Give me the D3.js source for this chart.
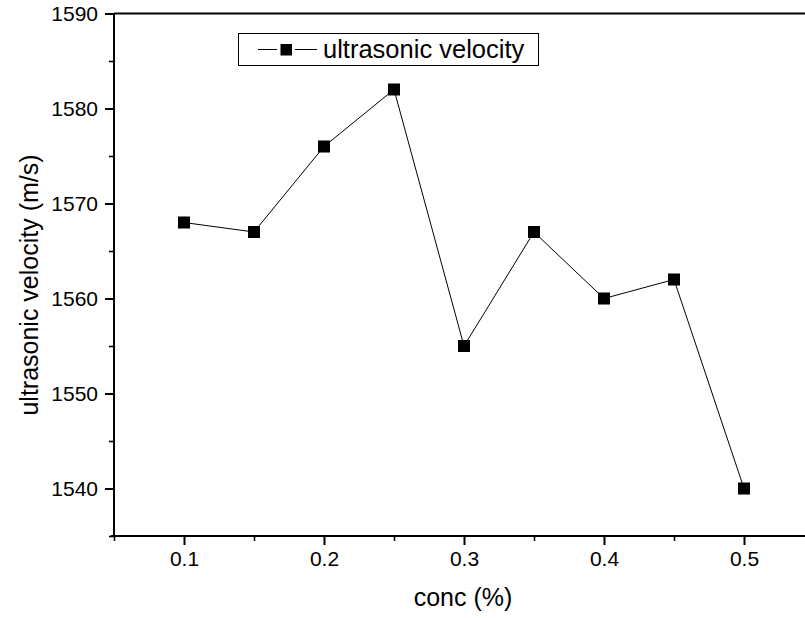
<!DOCTYPE html>
<html>
<head>
<meta charset="utf-8">
<script src="https://cdn.jsdelivr.net/npm/d3@7"></script>
<style>
  body { margin: 0; background: #fff; }
  text { font-family: Arial, "Liberation Sans", sans-serif; fill: #000; }
</style>
</head>
<body>
<script>
// data
const conc = [0.1, 0.15, 0.2, 0.25, 0.3, 0.35, 0.4, 0.45, 0.5];
const velocity = [1568, 1567, 1576, 1582, 1555, 1567, 1560, 1562, 1540];
const xTicks = [0.1, 0.2, 0.3, 0.4, 0.5];
const yTicks = [1540, 1550, 1560, 1570, 1580, 1590];

const svgWidth = 805, svgHeight = 618;
const plotLeft = 114, plotTop = 13.5, plotBottom = 536, plotRight = 814;
const fontFamily = 'Arial, "Liberation Sans", sans-serif';

let svg = d3.select('body').append('svg')
  .attr('width', svgWidth)
  .attr('height', svgHeight);

let x = d3.scaleLinear().domain([0.05, 0.55]).range([plotLeft, plotRight]);
let y = d3.scaleLinear().domain([1535, 1590]).range([plotBottom, plotTop]);

// minor ticks
let xMinor = d3.range(0.05, 0.551, 0.05).map(d => +d.toFixed(2)).filter(d => !xTicks.includes(d));
let yMinor = d3.range(1535, 1591, 5).filter(d => !yTicks.includes(d));

svg.append('g')
  .attr('transform', `translate(0,${plotBottom})`)
  .call(d3.axisBottom(x).tickValues(xMinor).tickSize(5).tickFormat(''))
  .call(g => g.select('.domain').remove())
  .selectAll('line').attr('stroke-width', 1.6);

svg.append('g')
  .attr('transform', `translate(${plotLeft},0)`)
  .call(d3.axisLeft(y).tickValues(yMinor).tickSize(5).tickFormat(''))
  .call(g => g.select('.domain').remove())
  .selectAll('line').attr('stroke-width', 1.6);

// major axes
let xAxis = svg.append('g')
  .attr('transform', `translate(0,${plotBottom})`)
  .call(d3.axisBottom(x).tickValues(xTicks).tickSize(9).tickPadding(6).tickFormat(d3.format('.1f')).tickSizeOuter(0));
xAxis.select('.domain').attr('stroke-width', 2).attr('d', `M${plotLeft - 3},0H${plotRight}`);
xAxis.selectAll('.tick line').attr('stroke-width', 2);
xAxis.selectAll('text').attr('font-size', 21).attr('font-family', fontFamily);

let yAxis = svg.append('g')
  .attr('transform', `translate(${plotLeft},0)`)
  .call(d3.axisLeft(y).tickValues(yTicks).tickSize(9).tickPadding(7).tickFormat(d3.format('d')).tickSizeOuter(0));
yAxis.select('.domain').attr('stroke-width', 2).attr('d', `M0,${plotTop}V${plotBottom + 1}`);
yAxis.selectAll('.tick line').attr('stroke-width', 2);
yAxis.selectAll('text').attr('font-size', 21).attr('font-family', fontFamily);

// top frame line
svg.append('line')
  .attr('x1', plotLeft).attr('x2', plotRight)
  .attr('y1', plotTop).attr('y2', plotTop)
  .attr('stroke', '#000').attr('stroke-width', 2);

// series
let line = d3.line().x((d, i) => x(conc[i])).y(d => y(d));
svg.append('path')
  .datum(velocity)
  .attr('d', line)
  .attr('fill', 'none')
  .attr('stroke', '#000')
  .attr('stroke-width', 1);

svg.selectAll('rect.pt')
  .data(velocity)
  .enter().append('rect')
  .attr('class', 'pt')
  .attr('x', (d, i) => x(conc[i]) - 6)
  .attr('y', d => y(d) - 6)
  .attr('width', 12).attr('height', 12)
  .attr('fill', '#000');

// axis titles
svg.append('text')
  .attr('x', 463).attr('y', 606)
  .attr('text-anchor', 'middle')
  .attr('font-size', 25)
  .text('conc (%)');

svg.append('text')
  .attr('transform', 'translate(38,285) rotate(-90)')
  .attr('text-anchor', 'middle')
  .attr('font-size', 25)
  .text('ultrasonic velocity (m/s)');

// legend
let legend = svg.append('g');
legend.append('rect')
  .attr('x', 238.5).attr('y', 33.5)
  .attr('width', 300).attr('height', 32)
  .attr('fill', '#fff').attr('stroke', '#000').attr('stroke-width', 1);
// line sample broken around the marker, like the source
[[258, 277], [295, 317]].forEach(seg => {
  legend.append('line')
    .attr('x1', seg[0]).attr('x2', seg[1]).attr('y1', 49.5).attr('y2', 49.5)
    .attr('stroke', '#000').attr('stroke-width', 1);
});
legend.append('rect')
  .attr('x', 280.5).attr('y', 44).attr('width', 11.5).attr('height', 11.5)
  .attr('fill', '#000');
legend.append('text')
  .attr('x', 323).attr('y', 58)
  .attr('font-size', 25.5)
  .text('ultrasonic velocity');
</script>
</body>
</html>
